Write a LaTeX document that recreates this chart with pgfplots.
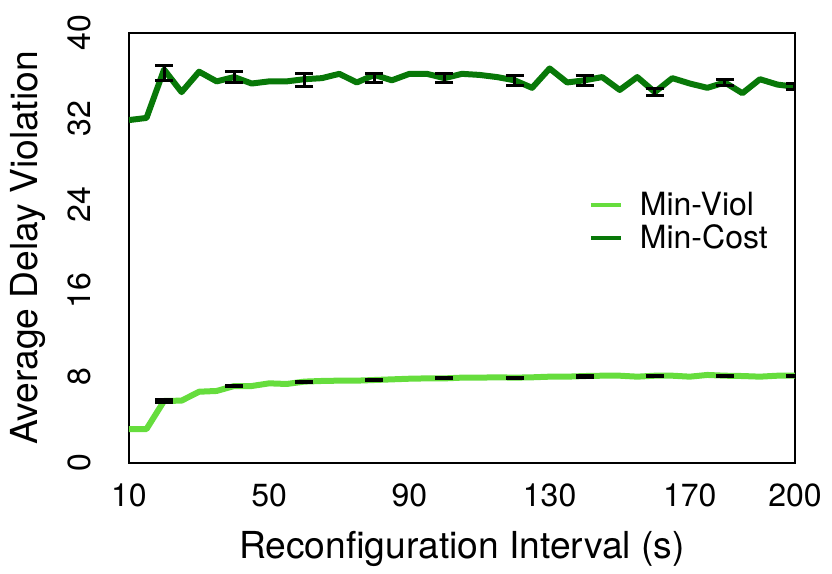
\documentclass[border=0pt]{standalone}
\usepackage{fontspec}
\setmainfont{TeX Gyre Heros}
\usepackage{pgfplots}
\pgfplotsset{compat=1.18}

\definecolor{viol}{RGB}{102,221,61}
\definecolor{cost}{RGB}{8,120,8}

% interval, min-viol, min-cost
\pgfplotstableread{
x viol cost
10 3.16 31.9
15 3.16 32.1
20 5.77 36.6
25 5.80 34.5
30 6.63 36.4
35 6.70 35.5
40 7.16 35.9
45 7.16 35.3
50 7.41 35.5
55 7.35 35.5
60 7.57 35.7
65 7.63 35.8
70 7.66 36.2
75 7.66 35.4
80 7.72 36.1
85 7.78 35.6
90 7.84 36.2
95 7.87 36.2
100 7.87 35.8
105 7.94 36.2
110 7.94 36.1
115 7.97 35.9
120 7.94 35.6
125 7.97 34.9
130 8.03 36.7
135 8.03 35.4
140 8.09 35.6
145 8.12 35.9
150 8.12 34.7
155 8.03 35.9
160 8.12 34.5
165 8.12 35.8
170 8.03 35.3
175 8.19 34.9
180 8.12 35.4
185 8.09 34.4
190 8.03 35.7
195 8.12 35.2
200 8.12 35.0
}\datatable

% error bars every 20 s
\pgfplotstableread{
x viol verr cost cerr
20 5.77 0.15 36.3 0.70
40 7.16 0.08 35.9 0.50
60 7.57 0.05 35.6 0.60
80 7.72 0.06 35.8 0.45
100 7.87 0.05 35.8 0.40
120 7.94 0.05 35.6 0.45
140 8.05 0.10 35.6 0.45
160 8.06 0.05 34.5 0.35
180 8.09 0.05 35.4 0.30
200 8.10 0.05 35.0 0.30
}\errtable

\begin{document}
\begin{tikzpicture}
\begin{axis}[
  width=333pt, height=215pt,
  scale only axis,
  xmin=10, xmax=200,
  ymin=0, ymax=40,
  xtick={10,50,90,130,170,200},
  ytick={0,8,16,24,32,40},
  major tick length=0pt,
  axis line style={line width=1.3pt},
  /pgf/number format/assume math mode=true,
  tick label style={font=\fontsize{16}{18}\selectfont, inner sep=0pt},
  yticklabel style={rotate=90, anchor=south},
  yticklabel shift=19pt,
  xticklabel shift=10pt,
  label style={font=\fontsize{18.6}{21}\selectfont},
  xlabel={Reconfiguration Interval (s)},
  xlabel style={at={(axis description cs:0.5,-0.223)}, anchor=base},
  ylabel={Average Delay Violation},
  ylabel style={at={(axis description cs:-0.138,0.5)}, anchor=base, rotate=0},
  legend style={draw=none, fill=none, at={(axis description cs:0.69,0.64)}, anchor=north west,
    inner sep=0pt, font=\fontsize{16}{19}\selectfont, cells={anchor=west}, row sep=-1pt},
  legend image code/.code={\draw[#1, line width=2pt] (0pt,0pt) -- (15pt,0pt); \path (21pt,0pt);},
]
\addplot[viol, line width=3pt, line join=round] table[x=x, y=viol] {\datatable};
\addlegendentry{Min-Viol}
\addplot[cost, line width=3pt, line join=round] table[x=x, y=cost] {\datatable};
\addlegendentry{Min-Cost}
\addplot[draw=none, forget plot, error bars/.cd, y dir=both, y explicit,
  error bar style={black, line width=1.5pt}, error mark options={black, line width=1.5pt, mark size=4.5pt, rotate=90}]
  table[x=x, y=viol, y error=verr] {\errtable};
\addplot[draw=none, forget plot, error bars/.cd, y dir=both, y explicit,
  error bar style={black, line width=1.5pt}, error mark options={black, line width=1.5pt, mark size=4.5pt, rotate=90}]
  table[x=x, y=cost, y error=cerr] {\errtable};
\end{axis}
\path (-64.5pt,-54.5pt) rectangle (351.5pt,231.5pt);
\end{tikzpicture}
\end{document}
